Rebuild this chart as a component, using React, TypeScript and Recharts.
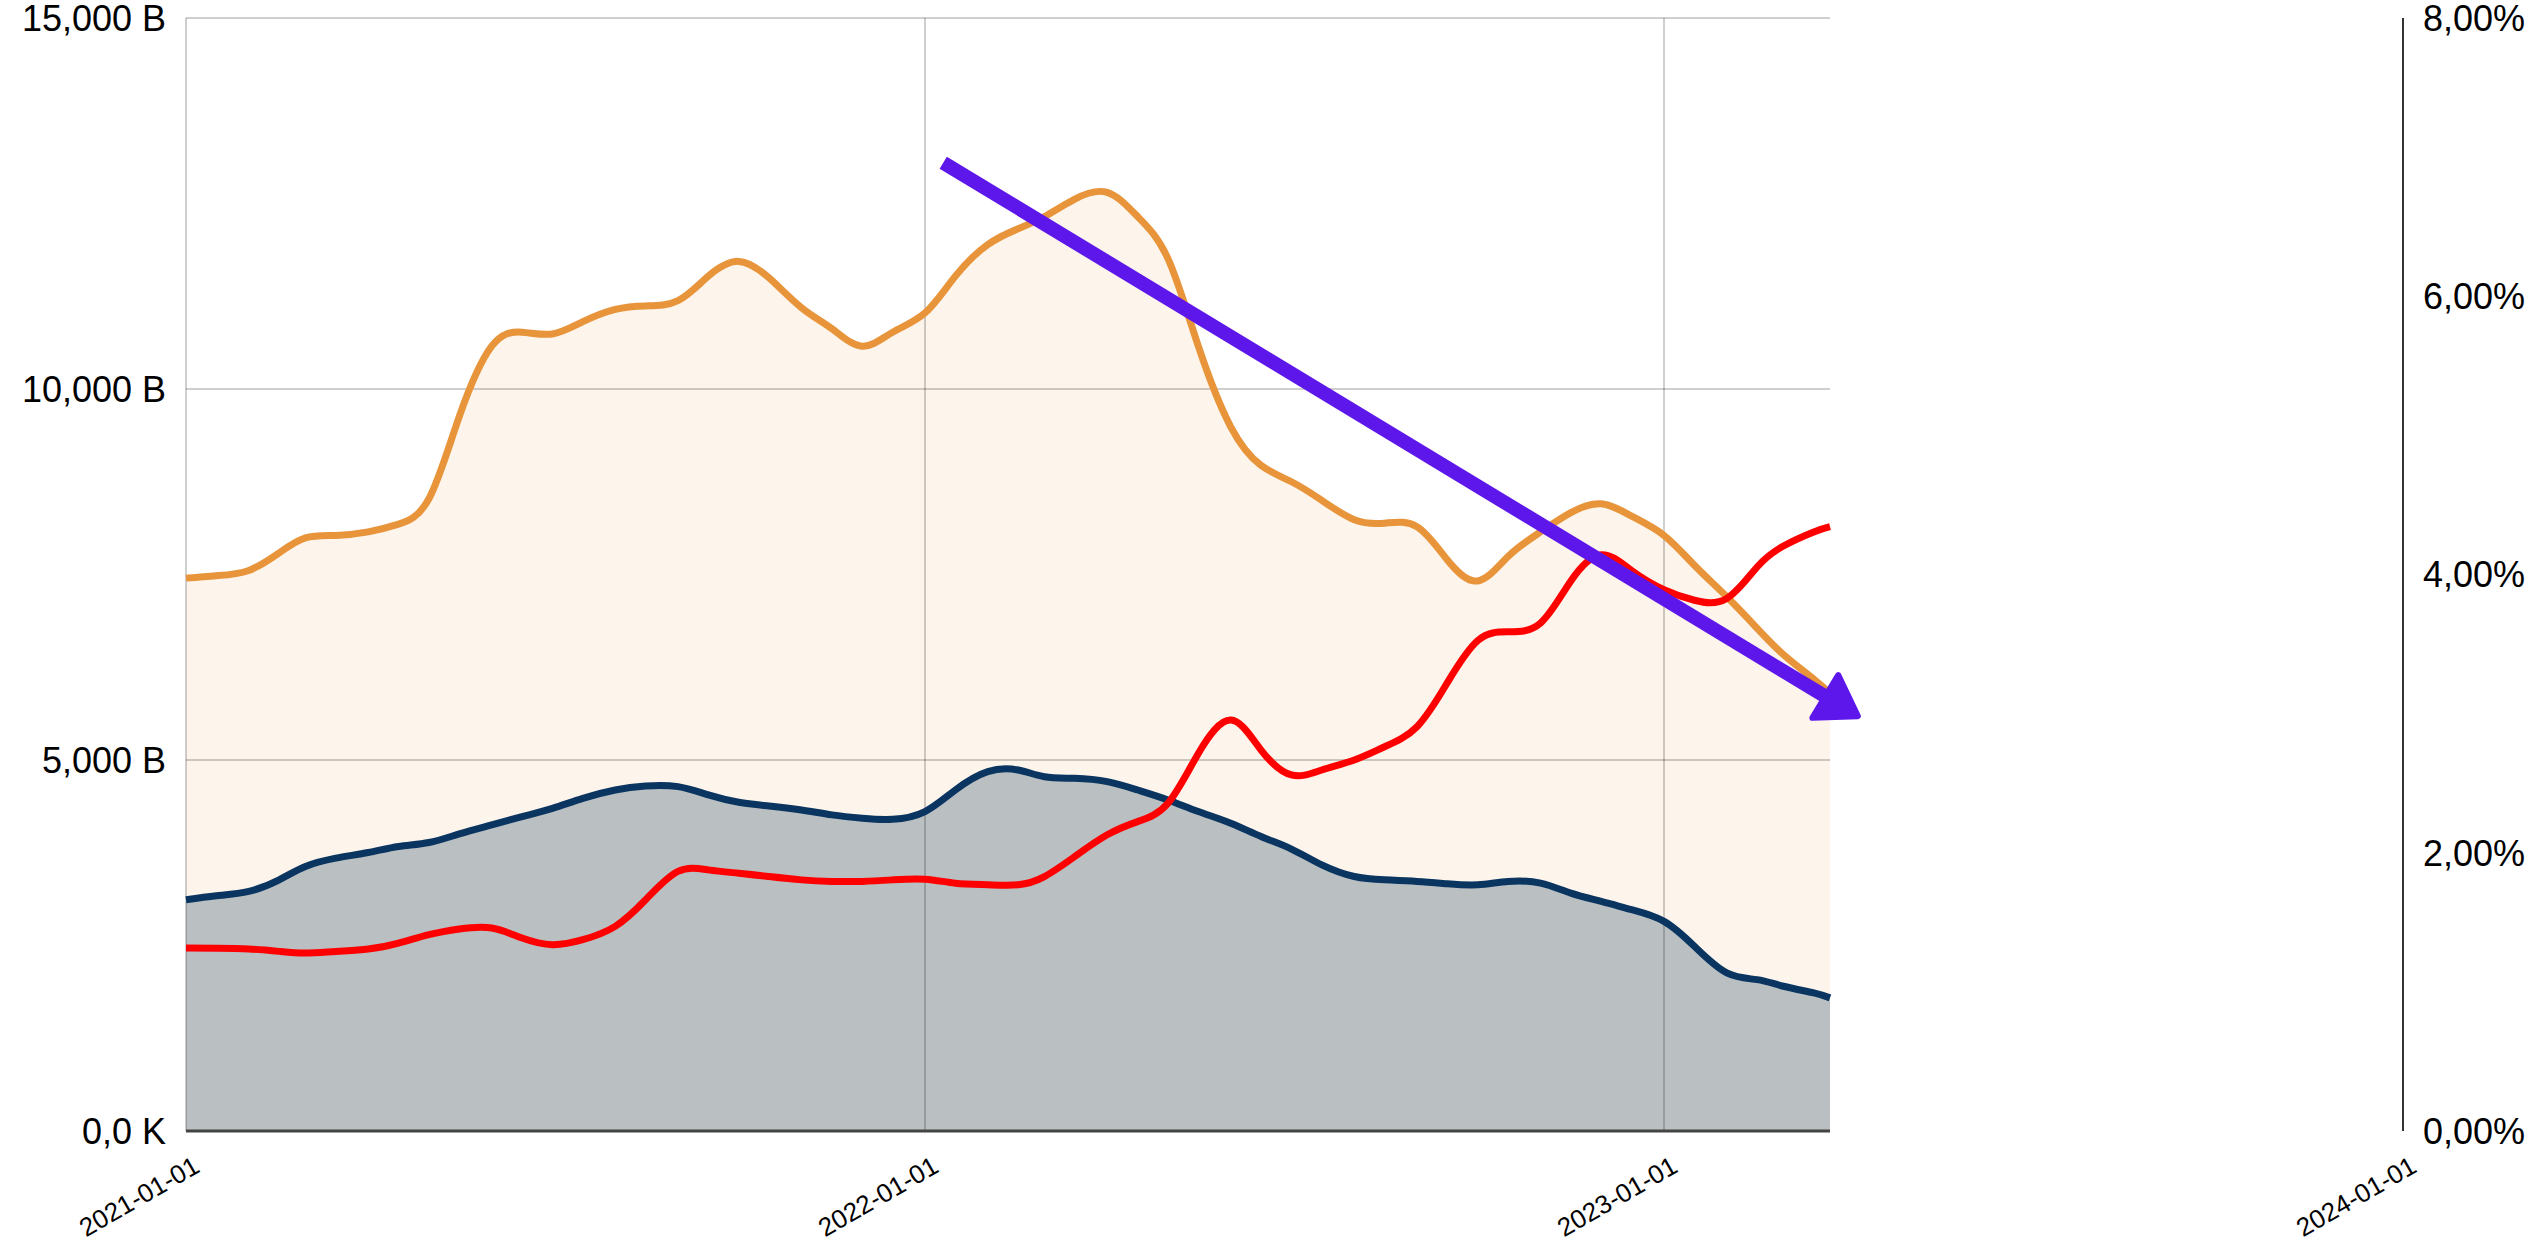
import React from 'react';
import { ComposedChart, Area, Line, XAxis, YAxis, ReferenceLine } from 'recharts';

// Observation dates (1st and 16th of each month, last observation 2023-03-24)
const dates = [
  '2021-01-01', '2021-01-16', '2021-02-01', '2021-02-16', '2021-03-01', '2021-03-16',
  '2021-04-01', '2021-04-16', '2021-05-01', '2021-05-16', '2021-06-01', '2021-06-16',
  '2021-07-01', '2021-07-16', '2021-08-01', '2021-08-16', '2021-09-01', '2021-09-16',
  '2021-10-01', '2021-10-16', '2021-11-01', '2021-11-16', '2021-12-01', '2021-12-16',
  '2022-01-01', '2022-01-16', '2022-02-01', '2022-02-16', '2022-03-01', '2022-03-16',
  '2022-04-01', '2022-04-16', '2022-05-01', '2022-05-16', '2022-06-01', '2022-06-16',
  '2022-07-01', '2022-07-16', '2022-08-01', '2022-08-16', '2022-09-01', '2022-09-16',
  '2022-10-01', '2022-10-16', '2022-11-01', '2022-11-16', '2022-12-01', '2022-12-16',
  '2023-01-01', '2023-01-16', '2023-02-01', '2023-02-16', '2023-03-01', '2023-03-16',
  '2023-03-24',
];

// Orange series (left axis, billions)
const orangeValues = [
  7451, 7484, 7555, 7791, 7994, 8027, 8074, 8178, 8523, 9632,
  10577, 10766, 10742, 10907, 11073, 11120, 11191, 11521, 11720, 11497,
  11096, 10813, 10577, 10766, 11025, 11521, 11946, 12159, 12324, 12560,
  12650, 12324, 11757, 10577, 9491, 8971, 8750, 8499, 8239, 8192,
  8145, 7696, 7413, 7743, 8074, 8334, 8452, 8287, 8027, 7625,
  7200, 6775, 6421, 6090, 5900,
];

// Navy series (left axis, billions)
const navyValues = [
  3116, 3170, 3229, 3386, 3565, 3677, 3753, 3834, 3888, 4004,
  4125, 4237, 4349, 4484, 4596, 4650, 4641, 4529, 4430, 4381,
  4327, 4260, 4215, 4201, 4305, 4596, 4843, 4865, 4775, 4753,
  4708, 4596, 4462, 4305, 4148, 3968, 3800, 3587, 3430, 3385,
  3363, 3332, 3318, 3363, 3341, 3206, 3094, 2982, 2825, 2489,
  2130, 2040, 1951, 1861, 1794,
];

// Red series (right axis, percent)
const redValues = [
  1.315, 1.313, 1.308, 1.291, 1.279, 1.291, 1.308, 1.351, 1.411, 1.452,
  1.459, 1.387, 1.339, 1.375, 1.471, 1.662, 1.866, 1.877, 1.853, 1.829,
  1.805, 1.794, 1.794, 1.805, 1.81, 1.781, 1.77, 1.77, 1.829, 1.973,
  2.129, 2.224, 2.356, 2.714, 2.954, 2.738, 2.559, 2.595, 2.667, 2.762,
  2.906, 3.223, 3.525, 3.588, 3.651, 3.954, 4.142, 4.029, 3.891, 3.815,
  3.828, 4.054, 4.205, 4.306, 4.344,
];

const xTickDates = ['2021-01-01', '2022-01-01', '2023-01-01', '2024-01-01'];
const xGridDates = ['2021-01-01', '2022-01-01', '2023-01-01'];
const leftTicks = [0, 5000, 10000, 15000];
const leftTickLabels = ['0,0 K', '5,000 B', '10,000 B', '15,000 B'];
const leftGridValues = [5000, 10000, 15000];
const rightTicks = [0, 2, 4, 6, 8];
const rightTickLabels = ['0,00%', '2,00%', '4,00%', '6,00%', '8,00%'];

// Trend arrow annotation (data coordinates)
const arrowFrom = { date: '2022-01-10', value: 13050 };
const arrowTo = { date: '2023-04-08', value: 5570 };

const ts = (d: string) => Date.parse(d + 'T00:00:00Z');

const data = dates.map((d, i) => ({
  t: ts(d),
  orange: orangeValues[i],
  navy: navyValues[i],
  red: redValues[i],
}));

const firstT = ts(dates[0]);
const lastT = ts(dates[dates.length - 1]);
const xTicks = xTickDates.map(ts);

const fmtDate = (v: number) => {
  const d = new Date(v);
  const mm = String(d.getUTCMonth() + 1).padStart(2, '0');
  const dd = String(d.getUTCDate()).padStart(2, '0');
  return `${d.getUTCFullYear()}-${mm}-${dd}`;
};

const XTick = (props: any) => {
  const { x, y, payload } = props;
  const px = x + 6;
  const py = y + 14;
  return (
    <text
      x={px}
      y={py}
      dy="0.71em"
      transform={`rotate(-30, ${px}, ${py})`}
      textAnchor="end"
      fontSize={26}
      fill="#000"
    >
      {fmtDate(payload.value)}
    </text>
  );
};

const ARROW = '#5E17EB';

const ArrowShape = (props: any) => {
  const { x1, y1, x2, y2 } = props;
  if (![x1, y1, x2, y2].every((n: any) => Number.isFinite(n))) return <g />;
  const dx = x2 - x1;
  const dy = y2 - y1;
  const len = Math.hypot(dx, dy);
  const ux = dx / len;
  const uy = dy / len;
  const px = -uy;
  const py = ux;
  const inset = 3;
  const headLen = 38;
  const headHalf = 25;
  const tx = x2 - ux * inset;
  const ty = y2 - uy * inset;
  const bx = tx - ux * headLen;
  const by = ty - uy * headLen;
  const pts = [
    [tx, ty],
    [bx + px * headHalf, by + py * headHalf],
    [bx - px * headHalf, by - py * headHalf],
  ]
    .map((p) => p.join(','))
    .join(' ');
  return (
    <g>
      <line x1={x1} y1={y1} x2={bx + ux * 6} y2={by + uy * 6} stroke={ARROW} strokeWidth={14} />
      <polygon points={pts} fill={ARROW} stroke={ARROW} strokeWidth={6} strokeLinejoin="round" />
    </g>
  );
};

const CURVE = 'natural';

export default function App() {
  return (
    <div
      style={{
        position: 'absolute',
        left: 0,
        top: 0,
        width: 2544,
        height: 1246,
        background: '#fff',
        fontFamily: '"Liberation Sans", Arial, sans-serif',
      }}
    >
      <ComposedChart width={2544} height={1246} data={data} margin={{ top: 18, right: 0, bottom: 0, left: 0 }}>
        <XAxis
          dataKey="t"
          type="number"
          scale="time"
          domain={[xTicks[0], xTicks[xTicks.length - 1]]}
          ticks={xTicks}
          interval={0}
          tickFormatter={fmtDate}
          axisLine={false}
          tickLine={false}
          tickSize={0}
          tickMargin={10}
          height={115}
          tick={<XTick />}
        />
        <YAxis
          yAxisId="left"
          orientation="left"
          domain={[0, 15000]}
          ticks={leftTicks}
          interval={0}
          tickFormatter={(v: number) => leftTickLabels[leftTicks.indexOf(v)]}
          axisLine={false}
          tickLine={false}
          tickSize={0}
          tickMargin={20}
          width={186}
          tick={{ fontSize: 36, fill: '#000' }}
        />
        <YAxis
          yAxisId="right"
          orientation="right"
          domain={[0, 8]}
          ticks={rightTicks}
          interval={0}
          tickFormatter={(v: number) => rightTickLabels[rightTicks.indexOf(v)]}
          axisLine={{ stroke: '#333', strokeWidth: 2 }}
          tickLine={false}
          tickSize={0}
          tickMargin={20}
          width={141}
          tick={{ fontSize: 36, fill: '#000' }}
        />

        <Area
          yAxisId="left"
          type={CURVE}
          dataKey="orange"
          stroke="none"
          fill="#FDF4EB"
          fillOpacity={1}
          isAnimationActive={false}
          dot={false}
          activeDot={false}
        />
        <Area
          yAxisId="left"
          type={CURVE}
          dataKey="navy"
          stroke="none"
          fill="#BABFC2"
          fillOpacity={1}
          isAnimationActive={false}
          dot={false}
          activeDot={false}
        />

        {leftGridValues.map((v) => (
          <ReferenceLine
            key={'h' + v}
            yAxisId="left"
            segment={[{ x: firstT, y: v }, { x: lastT, y: v }]}
            stroke="#000"
            strokeOpacity={0.19}
            strokeWidth={2}
          />
        ))}
        {xGridDates.map((d) => (
          <ReferenceLine
            key={'v' + d}
            yAxisId="left"
            x={ts(d)}
            stroke="#000"
            strokeOpacity={0.19}
            strokeWidth={2}
          />
        ))}
        <ReferenceLine
          yAxisId="left"
          segment={[{ x: firstT, y: 0 }, { x: lastT, y: 0 }]}
          stroke="#444"
          strokeWidth={3}
        />

        <Line
          yAxisId="left"
          type={CURVE}
          dataKey="orange"
          stroke="#E8943A"
          strokeWidth={7}
          dot={false}
          activeDot={false}
          isAnimationActive={false}
        />
        <Line
          yAxisId="left"
          type={CURVE}
          dataKey="navy"
          stroke="#0A3560"
          strokeWidth={7}
          dot={false}
          activeDot={false}
          isAnimationActive={false}
        />
        <Line
          yAxisId="right"
          type={CURVE}
          dataKey="red"
          stroke="#FF0000"
          strokeWidth={7}
          dot={false}
          activeDot={false}
          isAnimationActive={false}
        />

        <ReferenceLine
          yAxisId="left"
          segment={[
            { x: ts(arrowFrom.date), y: arrowFrom.value },
            { x: ts(arrowTo.date), y: arrowTo.value },
          ]}
          shape={ArrowShape}
        />
      </ComposedChart>
    </div>
  );
}
